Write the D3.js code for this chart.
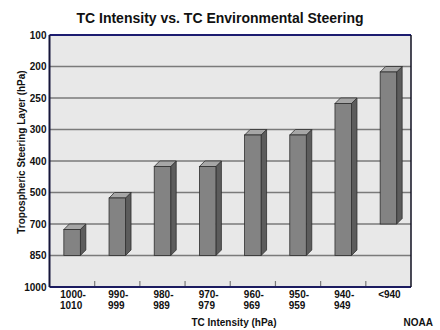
<!DOCTYPE html>
<html>
<head>
<meta charset="utf-8">
<script src="https://cdn.jsdelivr.net/npm/d3@7"></script>
<style>
  html, body { margin: 0; padding: 0; background: #ffffff; }
  svg { display: block; font-family: "Liberation Sans", Arial, sans-serif; }
</style>
</head>
<body>
<svg id="chart" width="440" height="330"></svg>
<script>
// Intensity classes (hPa), two-line labels
const categories = ["1000-1010", "990-999", "980-989", "970-979", "960-969", "950-959", "940-949", "<940"];
const labelLine1 = ["1000-", "990-", "980-", "970-", "960-", "950-", "940-", "<940"];
const labelLine2 = ["1010", "999", "989", "979", "969", "959", "949", ""];
// Steering-layer pressure levels shown on the vertical axis (evenly spaced)
const levels = [100, 200, 250, 300, 400, 500, 700, 850, 1000];
// Layer bottom and top (hPa) for each intensity class
const layerBottom = [850, 850, 850, 850, 850, 850, 850, 700];
const layerTop = [700, 500, 400, 400, 300, 300, 250, 200];

const svg = d3.select("#chart");
const plotL = 49.5, plotR = 411, plotT = 35, plotB = 287;
const depth = 5.5;

const x = d3.scaleBand().domain(categories).range([plotL, plotR])
  .paddingInner(0.635).paddingOuter(0.3175);
const y = d3.scalePoint().domain(levels).range([plotT, plotB]).padding(0);

// plot background
svg.append("rect").attr("x", plotL).attr("y", plotT)
  .attr("width", plotR - plotL).attr("height", plotB - plotT)
  .attr("fill", "#e8e8e8");

// horizontal grid lines
svg.append("g").selectAll("line")
  .data(levels.slice(1, -1))
  .join("line")
  .attr("x1", plotL).attr("x2", plotR)
  .attr("y1", d => y(d)).attr("y2", d => y(d))
  .attr("stroke", "#7a7a7a").attr("stroke-width", 1.4);

// category separators rising from the floor
const step = x.step();
svg.append("g").selectAll("line")
  .data(categories.slice(1))
  .join("line")
  .attr("x1", (d, i) => plotL + step * (i + 1))
  .attr("x2", (d, i) => plotL + step * (i + 1))
  .attr("y1", plotB).attr("y2", plotB - 6)
  .attr("stroke", "#7a7a7a").attr("stroke-width", 1.2);

// 3-D columns
const bars = categories.map((c, i) => ({ c, lo: layerBottom[i], hi: layerTop[i] }));
const g = svg.append("g").selectAll("g").data(bars).join("g");
const stroke = "#2e2e2e";

g.append("polygon") // side
  .attr("points", d => {
    const x1 = x(d.c) + x.bandwidth();
    const yt = y(d.hi) + depth, yb = y(d.lo);
    return [[x1, yt], [x1 + depth, yt - depth], [x1 + depth, yb - depth], [x1, yb]].join(" ");
  })
  .attr("fill", "#5c5c5c").attr("stroke", stroke).attr("stroke-width", 0.8);

g.append("polygon") // top
  .attr("points", d => {
    const x0 = x(d.c), x1 = x0 + x.bandwidth();
    const yt = y(d.hi) + depth;
    return [[x0, yt], [x0 + depth, yt - depth], [x1 + depth, yt - depth], [x1, yt]].join(" ");
  })
  .attr("fill", "#a6a6a6").attr("stroke", stroke).attr("stroke-width", 0.8);

g.append("rect") // front
  .attr("x", d => x(d.c))
  .attr("y", d => y(d.hi) + depth)
  .attr("width", x.bandwidth())
  .attr("height", d => y(d.lo) - y(d.hi) - depth)
  .attr("fill", "#838383").attr("stroke", stroke).attr("stroke-width", 0.8);

// frame
svg.append("line").attr("x1", plotL).attr("x2", plotR).attr("y1", plotT).attr("y2", plotT)
  .attr("stroke", "#1c1c70").attr("stroke-width", 2);
svg.append("line").attr("x1", plotL).attr("x2", plotR).attr("y1", plotB).attr("y2", plotB)
  .attr("stroke", "#1c1c60").attr("stroke-width", 2);
svg.append("line").attr("x1", plotL).attr("x2", plotL).attr("y1", plotT).attr("y2", plotB)
  .attr("stroke", "#15153a").attr("stroke-width", 2);
svg.append("line").attr("x1", plotR).attr("x2", plotR).attr("y1", plotT).attr("y2", plotB)
  .attr("stroke", "#111122").attr("stroke-width", 1.5);

// y axis labels
const yAxis = svg.append("g").attr("transform", `translate(${plotL - 2},0)`)
  .call(d3.axisLeft(y).tickSize(0).tickPadding(1));
yAxis.select(".domain").remove();
yAxis.selectAll("text")
  .attr("font-family", "'Liberation Sans', Arial, sans-serif")
  .attr("font-size", 10).attr("font-weight", "bold").attr("fill", "#111");

// x category labels
const xl = svg.append("g").selectAll("text").data(categories).join("text")
  .attr("text-anchor", "middle")
  .attr("font-size", 10).attr("font-weight", "bold").attr("fill", "#111");
xl.append("tspan")
  .attr("x", d => x(d) + x.bandwidth() / 2 + 1).attr("y", 297.5)
  .text((d, i) => labelLine1[i]);
xl.append("tspan")
  .attr("x", d => x(d) + x.bandwidth() / 2 - 1).attr("y", 308.5)
  .text((d, i) => labelLine2[i]);

// titles
svg.append("text").attr("x", 220).attr("y", 23).attr("text-anchor", "middle")
  .attr("font-size", 14).attr("font-weight", "bold").attr("fill", "#111")
  .text("TC Intensity vs. TC Environmental Steering");
svg.append("text").attr("x", 234).attr("y", 326).attr("text-anchor", "middle")
  .attr("font-size", 10).attr("font-weight", "bold").attr("fill", "#111")
  .text("TC Intensity (hPa)");
svg.append("text").attr("x", 433).attr("y", 326).attr("text-anchor", "end")
  .attr("font-size", 10).attr("font-weight", "bold").attr("fill", "#111")
  .text("NOAA");
svg.append("text")
  .attr("transform", "translate(25,152) rotate(-90)")
  .attr("text-anchor", "middle")
  .attr("font-size", 10).attr("font-weight", "bold").attr("fill", "#111")
  .text("Tropospheric Steering Layer (hPa)");
</script>
</body>
</html>
